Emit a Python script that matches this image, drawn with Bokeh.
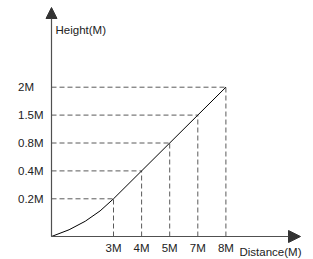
from bokeh.plotting import figure
from bokeh.models import Range1d, Arrow, NormalHead, ColumnDataSource
from bokeh.embed import file_html
from bokeh.resources import INLINE
from bokeh.core.properties import value

# ---- data (schematic: labelled points on an evenly spaced grid) ----
distances = ["3M", "4M", "5M", "7M", "8M"]
heights = ["0.2M", "0.4M", "0.8M", "1.5M", "2M"]
x_title = "Distance(M)"
y_title = "Height(M)"

# ---- layout constants (pixel units measured from the origin) ----
W, H = 313, 259
ORIGIN_X, ORIGIN_Y = 51, 236          # origin position inside the canvas
X_FIRST, X_STEP = 62, 28.1            # schematic spacing of distance marks
Y_FIRST, Y_STEP = 37.7, 27.9          # schematic spacing of height marks

xs = [X_FIRST + i * X_STEP for i in range(len(distances))]
ys = [Y_FIRST + i * Y_STEP for i in range(len(heights))]

FONT = value("Liberation Sans")
TEXT_COLOR = "#222222"
AXIS_COLOR = "#505050"
DASH_COLOR = "#5a5a5a"

p = figure(width=W, height=H, output_backend="svg", toolbar_location=None,
           x_range=Range1d(-ORIGIN_X, W - ORIGIN_X),
           y_range=Range1d(-(H - ORIGIN_Y), ORIGIN_Y),
           x_axis_location=None, y_axis_location=None,
           min_border=0, min_border_left=0, min_border_right=0,
           min_border_top=0, min_border_bottom=0)
p.grid.visible = False
p.outline_line_color = None
p.background_fill_color = "white"
p.border_fill_color = "white"

src = ColumnDataSource(dict(x=xs, y=ys, dist=distances, hgt=heights,
                            zero=[0] * len(xs)))

# dashed guide lines
p.segment(x0="zero", y0="y", x1="x", y1="y", source=src,
          line_color=DASH_COLOR, line_width=1, line_dash="5 3")
p.segment(x0="x", y0="zero", x1="x", y1="y", source=src,
          line_color=DASH_COLOR, line_width=1, line_dash="5 3")

# curve: smooth rise from origin to the first mark, then through the marks
p.quadratic(x0=[0], y0=[0], x1=[xs[0]], y1=[ys[0]],
            cx=[xs[0] * 0.59], cy=[ys[0] * 0.31],
            line_color="black", line_width=1)
p.line(x="x", y="y", source=src, line_color="black", line_width=1)

# axes with arrow heads
head_x = NormalHead(size=12, fill_color="#333333", line_color="#333333")
head_y = NormalHead(size=11, fill_color="#333333", line_color="#333333")
p.add_layout(Arrow(end=head_x, x_start=0, y_start=0, x_end=249, y_end=0,
                   line_color=AXIS_COLOR, line_width=1.2))
p.add_layout(Arrow(end=head_y, x_start=0, y_start=0, x_end=0, y_end=229,
                   line_color=AXIS_COLOR, line_width=1.2))

# tick labels
p.text(x="x", y=-11, text="dist", source=src, text_font=FONT,
       text_font_size="11.5px", text_color=TEXT_COLOR,
       text_align="center", text_baseline="middle")
p.text(x=-33.5, y="y", text="hgt", source=src, text_font=FONT,
       text_font_size="11.5px", text_color=TEXT_COLOR,
       text_align="left", text_baseline="middle")

# axis titles
p.text(x=[4], y=[207], text=[y_title], text_font=FONT,
       text_font_size="11.5px", text_color=TEXT_COLOR,
       text_align="left", text_baseline="middle")
p.text(x=[188], y=[-15], text=[x_title], text_font=FONT,
       text_font_size="11.5px", text_color=TEXT_COLOR,
       text_align="left", text_baseline="middle")

open("out.html", "w").write(file_html(p, INLINE))
